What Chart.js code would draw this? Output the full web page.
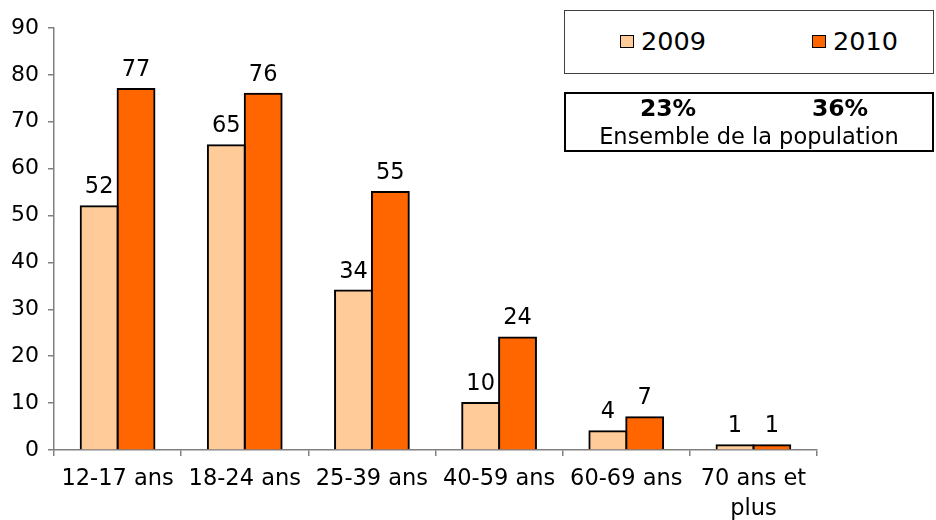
<!DOCTYPE html>
<html>
<head>
<meta charset="utf-8">
<script src="https://cdn.jsdelivr.net/npm/chart.js@4/dist/chart.umd.min.js"></script>
<style>
  body { margin: 0; background: #fff; }
  #wrap { position: relative; width: 936px; height: 520px; font-family: "DejaVu Sans", Verdana, sans-serif; color: #000; }
  .box { position: absolute; left: 564px; width: 370px; box-sizing: border-box; background: #fff; }
  #legend { top: 10px; height: 64px; border: 1px solid #404040; }
  #stats { top: 92px; height: 60px; border: 2px solid #000; }
  .item { position: absolute; top: 16px; font-size: 25.5px; line-height: 28px; }
  .swatch { display: inline-block; width: 12px; height: 11px; border: 1.5px solid #000; margin-right: 7px; vertical-align: 2px; }
  .pct { position: absolute; top: 0px; font-size: 23.5px; font-weight: bold; width: 120px; text-align: center; }
  .pop { position: absolute; top: 29px; left: 0; right: 0; text-align: center; font-size: 22.5px; }
</style>
</head>
<body>
<div id="wrap">
  <canvas id="canvas"></canvas>
  <div id="legend" class="box">
    <div class="item" style="left:55px"><span class="swatch" style="background:#FFCC99"></span>2009</div>
    <div class="item" style="left:247px"><span class="swatch" style="background:#FF6600"></span>2010</div>
  </div>
  <div id="stats" class="box">
    <div class="pct" style="left:42px">23%</div>
    <div class="pct" style="left:214px">36%</div>
    <div class="pop">Ensemble de la population</div>
  </div>
</div>
<script>
var categories = ["12-17 ans", "18-24 ans", "25-39 ans", "40-59 ans", "60-69 ans", ["70 ans et", "plus"]];
var valeurs2009 = [52, 65, 34, 10, 4, 1];
var valeurs2010 = [77, 76, 55, 24, 7, 1];
var ticksY = [0, 10, 20, 30, 40, 50, 60, 70, 80, 90];

// etiquettes au dessus des barres
var etiquettes = {
    id: "etiquettes",
    afterDatasetsDraw: function(chart) {
        var ctx = chart.ctx;
        ctx.save();
        ctx.font = "22.5px 'DejaVu Sans', Verdana, sans-serif";
        ctx.fillStyle = "#000";
        ctx.textAlign = "center";
        ctx.textBaseline = "alphabetic";
        chart.data.datasets.forEach(function(ds, i) {
            chart.getDatasetMeta(i).data.forEach(function(bar, j) {
                ctx.fillText(ds.data[j], bar.x, bar.y - 13);
            });
        });
        ctx.restore();
    }
};

var ctx = document.getElementById("canvas");
var barGraph = new Chart(ctx, {
    type: "bar",
    data: {
        labels: categories,
        datasets: [
            {
                label: "2009",
                data: valeurs2009,
                backgroundColor: "#FFCC99",
                borderColor: "#000",
                borderWidth: 2,
                inflateAmount: 1,
                categoryPercentage: 0.58,
                barPercentage: 1.0
            },
            {
                label: "2010",
                data: valeurs2010,
                backgroundColor: "#FF6600",
                borderColor: "#000",
                borderWidth: 2,
                inflateAmount: 1,
                categoryPercentage: 0.58,
                barPercentage: 1.0
            }
        ]
    },
    options: {
        responsive: true,
        maintainAspectRatio: false,
        animation: false,
        layout: { padding: { top: 28, right: 119, left: 0, bottom: 0 } },
        plugins: {
            legend: { display: false },
            tooltip: { enabled: false }
        },
        scales: {
            x: {
                grid: { drawOnChartArea: false, drawTicks: true, tickLength: 6, color: "#808080", lineWidth: 1.5 },
                border: { display: true, color: "#808080", width: 1.5 },
                ticks: {
                    color: "#000",
                    padding: 8,
                    maxRotation: 0,
                    autoSkip: false,
                    font: { family: "'DejaVu Sans', Verdana, sans-serif", size: 22.5, lineHeight: 1.35 }
                },
                afterFit: function(scale) { scale.height = 70; }
            },
            y: {
                min: 0,
                max: 90,
                afterBuildTicks: function(scale) {
                    scale.ticks = ticksY.map(function(v) { return { value: v }; });
                },
                grid: { drawOnChartArea: false, drawTicks: true, tickLength: 6, color: "#808080", lineWidth: 1.5 },
                border: { display: true, color: "#808080", width: 1.5 },
                ticks: {
                    color: "#000",
                    padding: 9,
                    font: { family: "'DejaVu Sans', Verdana, sans-serif", size: 22 }
                },
                afterFit: function(scale) { scale.width = 54; }
            }
        }
    },
    plugins: [etiquettes]
});
</script>
</body>
</html>
